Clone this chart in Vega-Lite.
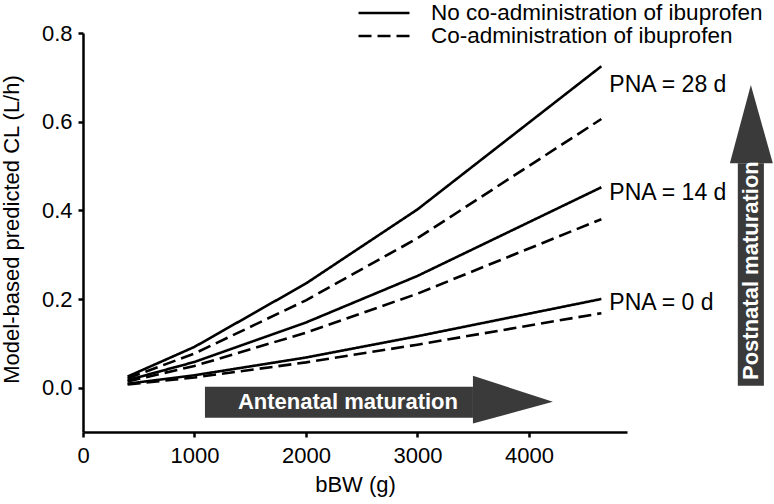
{
  "$schema": "https://vega.github.io/schema/vega-lite/v6.json",
  "width": 544,
  "height": 399,
  "autosize": {"type": "none"},
  "padding": {"left": 83, "top": 33, "right": 147, "bottom": 72},
  "background": "white",
  "config": {
    "font": "Liberation Sans",
    "view": {"stroke": null},
    "axis": {
      "grid": false,
      "domainColor": "black",
      "domainWidth": 2.5,
      "tickColor": "black",
      "tickWidth": 2.5,
      "tickSize": 5,
      "labelColor": "black",
      "labelFontSize": 22,
      "labelFont": "Liberation Sans",
      "titleColor": "black",
      "titleFontSize": 22,
      "titleFontWeight": "normal",
      "titleFont": "Liberation Sans"
    }
  },
  "datasets": {
    "curves": [
      {"bBW": 400, "CL": 0.025, "PNA": "28 d", "group": "No co-administration of ibuprofen"},
      {"bBW": 1000, "CL": 0.092, "PNA": "28 d", "group": "No co-administration of ibuprofen"},
      {"bBW": 2000, "CL": 0.235, "PNA": "28 d", "group": "No co-administration of ibuprofen"},
      {"bBW": 3000, "CL": 0.402, "PNA": "28 d", "group": "No co-administration of ibuprofen"},
      {"bBW": 4650, "CL": 0.725, "PNA": "28 d", "group": "No co-administration of ibuprofen"},
      {"bBW": 400, "CL": 0.021, "PNA": "28 d", "group": "Co-administration of ibuprofen"},
      {"bBW": 1000, "CL": 0.077, "PNA": "28 d", "group": "Co-administration of ibuprofen"},
      {"bBW": 2000, "CL": 0.197, "PNA": "28 d", "group": "Co-administration of ibuprofen"},
      {"bBW": 3000, "CL": 0.337, "PNA": "28 d", "group": "Co-administration of ibuprofen"},
      {"bBW": 4650, "CL": 0.606, "PNA": "28 d", "group": "Co-administration of ibuprofen"},
      {"bBW": 400, "CL": 0.017, "PNA": "14 d", "group": "No co-administration of ibuprofen"},
      {"bBW": 1000, "CL": 0.058, "PNA": "14 d", "group": "No co-administration of ibuprofen"},
      {"bBW": 2000, "CL": 0.147, "PNA": "14 d", "group": "No co-administration of ibuprofen"},
      {"bBW": 3000, "CL": 0.252, "PNA": "14 d", "group": "No co-administration of ibuprofen"},
      {"bBW": 4650, "CL": 0.452, "PNA": "14 d", "group": "No co-administration of ibuprofen"},
      {"bBW": 400, "CL": 0.014, "PNA": "14 d", "group": "Co-administration of ibuprofen"},
      {"bBW": 1000, "CL": 0.049, "PNA": "14 d", "group": "Co-administration of ibuprofen"},
      {"bBW": 2000, "CL": 0.124, "PNA": "14 d", "group": "Co-administration of ibuprofen"},
      {"bBW": 3000, "CL": 0.212, "PNA": "14 d", "group": "Co-administration of ibuprofen"},
      {"bBW": 4650, "CL": 0.38, "PNA": "14 d", "group": "Co-administration of ibuprofen"},
      {"bBW": 400, "CL": 0.009, "PNA": "0 d", "group": "No co-administration of ibuprofen"},
      {"bBW": 1000, "CL": 0.028, "PNA": "0 d", "group": "No co-administration of ibuprofen"},
      {"bBW": 2000, "CL": 0.068, "PNA": "0 d", "group": "No co-administration of ibuprofen"},
      {"bBW": 3000, "CL": 0.116, "PNA": "0 d", "group": "No co-administration of ibuprofen"},
      {"bBW": 4650, "CL": 0.2, "PNA": "0 d", "group": "No co-administration of ibuprofen"},
      {"bBW": 400, "CL": 0.007, "PNA": "0 d", "group": "Co-administration of ibuprofen"},
      {"bBW": 1000, "CL": 0.023, "PNA": "0 d", "group": "Co-administration of ibuprofen"},
      {"bBW": 2000, "CL": 0.057, "PNA": "0 d", "group": "Co-administration of ibuprofen"},
      {"bBW": 3000, "CL": 0.097, "PNA": "0 d", "group": "Co-administration of ibuprofen"},
      {"bBW": 4650, "CL": 0.168, "PNA": "0 d", "group": "Co-administration of ibuprofen"}
    ],
    "labels": [
      {"bBW": 4650, "CL": 0.682, "text": "PNA = 28 d"},
      {"bBW": 4650, "CL": 0.438, "text": "PNA = 14 d"},
      {"bBW": 4650, "CL": 0.19, "text": "PNA = 0 d"}
    ],
    "shafts": [
      {"name": "antenatal", "x": 1094, "x2": 3498, "y": 0.002, "y2": -0.068},
      {"name": "postnatal", "x": 5874, "x2": 6108, "y": 0.0045, "y2": 0.506}
    ],
    "headH": [
      {"x": 3498, "y": 0.027, "y2": -0.081},
      {"x": 4215, "y": -0.032, "y2": -0.032}
    ],
    "headV": [
      {"y": 0.506, "x": 5803, "x2": 6188},
      {"y": 0.6825, "x": 5991, "x2": 5991}
    ],
    "arrowText": [
      {"x": 2377, "y": -0.0316, "text": "Antenatal maturation", "angle": 0},
      {"x": 5991, "y": 0.264, "text": "Postnatal maturation", "angle": 270}
    ]
  },
  "layer": [
    {
      "data": {"name": "shafts"},
      "mark": {"type": "rect", "color": "#3a3a3a"},
      "encoding": {
        "x": {"field": "x", "type": "quantitative", "scale": {"domain": [0, 4880], "nice": false, "zero": false}},
        "x2": {"field": "x2"},
        "y": {"field": "y", "type": "quantitative", "scale": {"domain": [-0.1, 0.8], "nice": false, "zero": false}},
        "y2": {"field": "y2"}
      }
    },
    {
      "data": {"name": "headH"},
      "mark": {"type": "area", "color": "#3a3a3a", "orient": "vertical"},
      "encoding": {
        "x": {"field": "x", "type": "quantitative"},
        "y": {"field": "y", "type": "quantitative"},
        "y2": {"field": "y2"}
      }
    },
    {
      "data": {"name": "headV"},
      "mark": {"type": "area", "color": "#3a3a3a", "orient": "horizontal"},
      "encoding": {
        "y": {"field": "y", "type": "quantitative"},
        "x": {"field": "x", "type": "quantitative"},
        "x2": {"field": "x2"}
      }
    },
    {
      "data": {"name": "arrowText"},
      "mark": {"type": "text", "color": "white", "fontWeight": "bold", "fontSize": 22, "align": "center", "baseline": "middle", "font": "Liberation Sans"},
      "encoding": {
        "x": {"field": "x", "type": "quantitative"},
        "y": {"field": "y", "type": "quantitative"},
        "text": {"field": "text"},
        "angle": {"field": "angle", "type": "quantitative", "scale": null}
      }
    },
    {
      "data": {"name": "curves"},
      "mark": {"type": "line", "color": "black", "strokeWidth": 2.6},
      "encoding": {
        "x": {
          "field": "bBW", "type": "quantitative", "title": "bBW (g)",
          "axis": {"values": [0, 1000, 2000, 3000, 4000], "format": "d", "labelPadding": 8, "titlePadding": 8, "labelFlush": false}
        },
        "y": {
          "field": "CL", "type": "quantitative", "title": "Model-based predicted CL (L/h)",
          "axis": {"values": [0, 0.2, 0.4, 0.6, 0.8], "format": ".1f", "labelPadding": 6, "titleX": -60, "titleY": 196}
        },
        "detail": {"field": "PNA"},
        "strokeDash": {
          "field": "group", "type": "nominal",
          "scale": {"domain": ["No co-administration of ibuprofen", "Co-administration of ibuprofen"], "range": [[1, 0], [13, 6]]},
          "legend": {
            "orient": "none", "legendX": 274, "legendY": -31, "title": null,
            "symbolType": "stroke", "symbolSize": 2600, "symbolStrokeWidth": 2.6, "symbolStrokeColor": "black",
            "labelFontSize": 22.5, "labelColor": "black", "labelOffset": 20, "rowPadding": 0, "labelLimit": 0,
            "clipHeight": 22, "labelFont": "Liberation Sans"
          }
        }
      }
    },
    {
      "data": {"name": "labels"},
      "mark": {"type": "text", "color": "black", "fontSize": 23, "align": "left", "baseline": "middle", "dx": 8, "font": "Liberation Sans"},
      "encoding": {
        "x": {"field": "bBW", "type": "quantitative"},
        "y": {"field": "CL", "type": "quantitative"},
        "text": {"field": "text"}
      }
    }
  ]
}
